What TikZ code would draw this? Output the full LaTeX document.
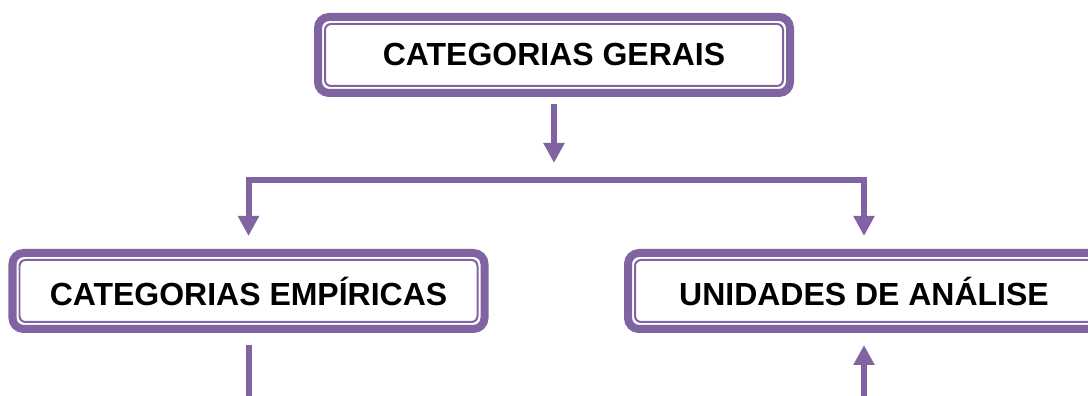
\documentclass[tikz,border=0pt]{standalone}
\usepackage{fontspec}
\setmainfont{Liberation Sans}
\usetikzlibrary{arrows.meta}
\definecolor{lilas}{RGB}{128,100,162}
\tikzset{
  caixa/.style={draw=lilas, line width=0.16cm, rounded corners=0.22cm, minimum width=9.44cm, minimum height=1.52cm, inner sep=0pt, outer sep=0pt, font=\fontsize{18.2}{22}\selectfont\bfseries},
  filete/.style={draw=lilas, line width=0.04cm, rounded corners=0.12cm},
  seta/.style={draw=lilas, line width=0.12cm, -{Triangle[width=0.4cm,length=0.4cm]}},
  haste/.style={draw=lilas, line width=0.12cm}
}
\begin{document}
\begin{tikzpicture}
\useasboundingbox (0,0) rectangle (21.76,7.92);
\node[caixa] (gerais) at (11.08,6.82) {CATEGORIAS GERAIS};
\node[caixa] (empiricas) at (4.97,2.1) {CATEGORIAS EMPÍRICAS};
\node[caixa] (unidades) at (17.28,2.1) {UNIDADES DE ANÁLISE};
% filete interno
\foreach \caixa in {gerais,empiricas,unidades}{
  \draw[filete] ([xshift=0.14cm,yshift=-0.14cm]\caixa.north west) rectangle ([xshift=-0.14cm,yshift=0.14cm]\caixa.south east);
}
\coordinate (bifurca) at (11.08,4.32);
\coordinate (baseE) at (empiricas.south |- 0,-0.5);
\coordinate (baseU) at (unidades.south |- 0,-0.5);
\draw[seta, shorten <=0.22cm, shorten >=0.34cm] (gerais) -- (bifurca);
\draw[seta, shorten >=0.34cm] (bifurca) -| (empiricas);
\draw[seta, shorten >=0.34cm] (bifurca) -| (unidades);
\draw[haste, shorten <=0.32cm] (empiricas) -- (baseE);
\draw[seta, shorten >=0.32cm] (baseU) -- (unidades);
\end{tikzpicture}
\end{document}
